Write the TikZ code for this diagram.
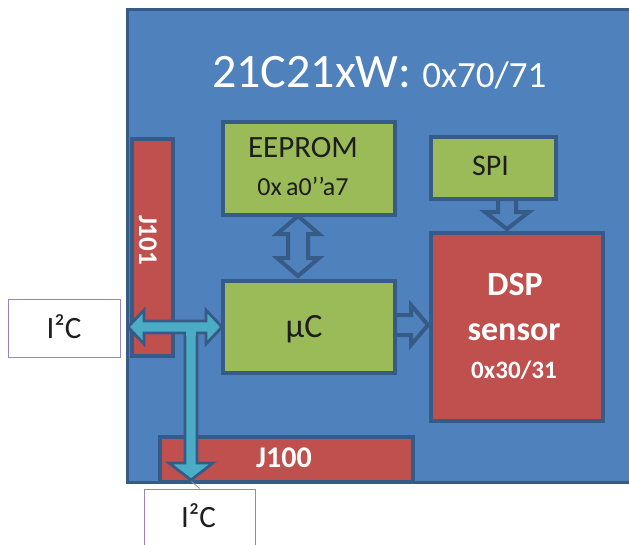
\documentclass[tikz,border=0pt]{standalone}
\usepackage{fontspec}
\setmainfont{Carlito}
\begin{document}
\begin{tikzpicture}[x=1pt,y=-1pt,
  board/.style={draw=dkblue,fill=mainblue,line width=3pt},
  redbox/.style={draw=dkblue,fill=redc,line width=4pt,inner sep=0pt},
  greenbox/.style={draw=dkblue,fill=greenc,line width=4.5pt,inner sep=0pt},
  i2cbox/.style={draw=purp,fill=white,line width=1.3pt,inner sep=0pt},
  i2ctxt/.style={text=txtdark,inner sep=0pt,anchor=base,font=\fontsize{31}{31}\selectfont},
  dtxt/.style={text=txtdark,inner sep=0pt,anchor=base},
  wtxt/.style={text=white,inner sep=0pt,anchor=base},
  barrow/.style={draw=dkblue,fill=mainblue,line width=4pt,line join=miter},
  carrow/.style={draw=dkblue,fill=cyanc,line width=2.8pt,line join=miter}
]
\definecolor{mainblue}{HTML}{4F81BD}
\definecolor{dkblue}{HTML}{375B87}
\definecolor{redc}{HTML}{C0504D}
\definecolor{greenc}{HTML}{9BBB59}
\definecolor{cyanc}{HTML}{4BACC6}
\definecolor{purp}{HTML}{9A86BE}
\definecolor{txtdark}{HTML}{1E1E1E}
\useasboundingbox (0,0) rectangle (629,544);
\clip (0,0) rectangle (629,544);

% board
\node[board,anchor=north west,minimum width=530pt,minimum height=473pt] (board) at (125.5,7.5) {};
\node[text=white,anchor=base west,inner sep=0pt] (title) at (212,87)
  {\fontsize{48}{48}\selectfont 21C21xW: \fontsize{37}{37}\selectfont 0x70/71};

% connectors
\node[redbox,anchor=north west,minimum width=41pt,minimum height=217pt] (j101) at (130,137) {};
\node[text=white,inner sep=0pt,rotate=-90,font=\bfseries\fontsize{27}{27}\selectfont] (j101t) at (148,240) {J101};
\node[redbox,anchor=north west,minimum width=253pt,minimum height=45pt] (j100) at (158,435) {};
\node[wtxt,font=\bfseries\fontsize{30}{30}\selectfont] (j100t) at (284,467) {J100};

% blocks
\node[greenbox,anchor=north west,minimum width=172pt,minimum height=93pt] (ee) at (220.5,119.5) {};
\node[dtxt,font=\fontsize{31}{31}\selectfont] (eet1) at (303,157) {EEPROM};
\node[dtxt,font=\fontsize{26}{26}\selectfont] (eet2) at (303,195) {0x\,a0’’a7};
\node[greenbox,anchor=north west,minimum width=125pt,minimum height=62pt] (spi) at (428.5,134.5) {};
\node[dtxt,font=\fontsize{30}{30}\selectfont] (spit) at (490.5,175) {SPI};
\node[greenbox,anchor=north west,minimum width=172pt,minimum height=92pt] (uc) at (220.5,278.5) {};
\node[dtxt,font=\fontsize{34}{34}\selectfont] (uct) at (304,337) {µC};
\node[redbox,anchor=north west,minimum width=172pt,minimum height=188pt] (dsp) at (428.5,230.5) {};
\node[wtxt,font=\bfseries\fontsize{34}{34}\selectfont] (dspt1) at (515,295) {DSP};
\node[wtxt,font=\bfseries\fontsize{34}{34}\selectfont] (dspt2) at (514,340) {sensor};
\node[wtxt,font=\bfseries\fontsize{25}{25}\selectfont] (dspt3) at (514,378) {0x30/31};

% block arrows
\draw[barrow] (298,216) -- (319,234) -- (308,234) -- (308,258) -- (319,258) -- (298,276)
  -- (277,258) -- (288,258) -- (288,234) -- (277,234) -- cycle;
\draw[barrow] (395,315) -- (411,315) -- (411,305) -- (428,325) -- (411,345) -- (411,335) -- (395,335) -- cycle;
\draw[barrow] (498,199) -- (516,199) -- (516,212) -- (529,212) -- (507,229) -- (485,212) -- (498,212) -- cycle;

% I2C boxes
\node[i2cbox,anchor=north west,minimum width=112pt,minimum height=58pt] (i2cL) at (7.5,298.5) {};
\node[i2ctxt] (i2cLt) at (64,338) {I²C};
\node[i2cbox,anchor=north west,minimum width=111pt,minimum height=62pt] (i2cB) at (143.5,488.5) {};
\node[i2ctxt] (i2cBt) at (198.5,527) {I²C};
\draw[purp,line width=0.8pt] (191,481) -- (i2cB.north);

% cyan arrows
\fill[cyanc] (185,327) -- (185,463) -- (169,463) -- (191,480) -- (213,463) -- (197,463) -- (197,327) -- cycle;
\draw[carrow,fill=none] (185,327) -- (185,463) -- (169,463) -- (191,480) -- (213,463) -- (197,463) -- (197,327);
\draw[carrow] (128,327) -- (144,310) -- (144,321) -- (206,321) -- (206,310) -- (222,327)
  -- (206,344) -- (206,333) -- (144,333) -- (144,344) -- cycle;
\fill[cyanc] (186.4,326) rectangle (195.6,336);
\end{tikzpicture}
\end{document}
